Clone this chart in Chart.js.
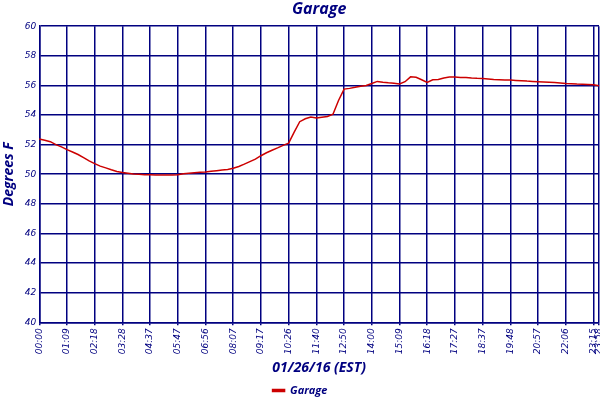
<!DOCTYPE html>
<html>
<head>
<meta charset="utf-8">
<script src="https://cdn.jsdelivr.net/npm/chart.js@4"></script>
<style>
html,body{margin:0;padding:0;background:#fff;}
#wrap{width:600px;height:400px;}
</style>
</head>
<body>
<div id="wrap"><canvas id="c" width="600" height="400"></canvas></div>
<script>
// Tick labels shown on the x axis (one every 5 samples, plus the final sample)
const tickLabels = ["00:00","01:09","02:18","03:28","04:37","05:47","06:56","08:07","09:17","10:26",
  "11:40","12:50","14:00","15:09","16:18","17:27","18:37","19:48","20:57","22:06","23:15","23:58"];
// Garage temperature readings (Degrees F), 102 samples
const garage = [
  52.38,52.30,52.20,52.00,51.85,51.66,51.50,51.33,51.12,50.90,
  50.72,50.55,50.43,50.30,50.18,50.12,50.07,50.02,50.00,49.97,
  49.97,49.95,49.95,49.95,49.95,49.97,50.03,50.07,50.10,50.13,
  50.15,50.20,50.24,50.28,50.32,50.40,50.52,50.68,50.85,51.02,
  51.25,51.45,51.62,51.78,51.95,52.10,52.85,53.55,53.75,53.86,
  53.80,53.85,53.90,54.05,54.98,55.75,55.80,55.87,55.95,56.00,
  56.13,56.27,56.22,56.18,56.15,56.10,56.25,56.58,56.55,56.38,
  56.20,56.38,56.40,56.50,56.56,56.56,56.54,56.54,56.50,56.48,
  56.47,56.44,56.40,56.39,56.37,56.36,56.34,56.32,56.29,56.27,
  56.25,56.23,56.21,56.19,56.16,56.13,56.11,56.09,56.08,56.07,
  56.05,55.97
];
const yTicks = [40,42,44,46,48,50,52,54,56,58,60];

const labelEvery = 5;
const lastIdx = garage.length - 1;
const tickIndex = tickLabels.map((_, k) => k === tickLabels.length - 1 ? lastIdx : k * labelEvery);
const categories = garage.map((_, i) => {
  const k = tickIndex.indexOf(i);
  return k >= 0 ? tickLabels[k] : '';
});

const navy = '#000080';
const red = '#CC0000';

new Chart(document.getElementById('c'), {
  type: 'line',
  data: {
    labels: categories,
    datasets: [{
      label: 'Garage',
      data: garage,
      borderColor: red,
      backgroundColor: red,
      borderWidth: 1.5,
      pointRadius: 0,
      tension: 0,
      fill: false
    }]
  },
  options: {
    responsive: false,
    animation: false,
    devicePixelRatio: 1,
    layout: { padding: { left: 1, right: 1, top: 0, bottom: -6 } },
    plugins: {
      title: {
        display: true,
        text: 'Garage',
        color: navy,
        fullSize: false,
        font: { family: 'Open Sans', size: 16, style: 'italic', weight: 'bold' },
        padding: { top: 0, bottom: 7 }
      },
      legend: {
        display: true,
        position: 'bottom',
        labels: {
          color: navy,
          boxWidth: 12,
          boxHeight: 2,
          padding: 2,
          font: { family: 'Open Sans', size: 11, style: 'italic', weight: 'bold' }
        }
      },
      tooltip: { enabled: false }
    },
    scales: {
      x: {
        type: 'category',
        offset: false,
        afterBuildTicks: (scale) => { scale.ticks = tickIndex.map(v => ({ value: v })); },
        afterFit: (scale) => { scale.paddingRight = 0; scale.paddingLeft = 0; },
        ticks: {
          autoSkip: false,
          maxRotation: 90,
          minRotation: 90,
          color: navy,
          padding: 3,
          font: { family: 'DejaVu Sans', size: 9, style: 'italic' }
        },
        grid: { color: navy, lineWidth: 1.5, drawTicks: true, tickLength: 3 },
        border: { color: navy, width: 1.5 },
        title: {
          display: true,
          text: '01/26/16 (EST)',
          color: navy,
          padding: { top: 2, bottom: 7 },
          font: { family: 'Open Sans', size: 14, style: 'italic', weight: 'bold' }
        }
      },
      y: {
        min: 40,
        max: 60,
        afterBuildTicks: (scale) => { scale.ticks = yTicks.map(v => ({ value: v })); },
        ticks: {
          color: navy,
          padding: 3,
          font: { family: 'DejaVu Sans', size: 9, style: 'italic' }
        },
        grid: { color: navy, lineWidth: 1.5, drawTicks: false },
        border: { color: navy, width: 1.5 },
        title: {
          display: true,
          text: 'Degrees F',
          color: navy,
          padding: { top: 0, bottom: 4 },
          font: { family: 'Open Sans', size: 14, style: 'italic', weight: 'bold' }
        }
      }
    }
  }
});
</script>
</body>
</html>
